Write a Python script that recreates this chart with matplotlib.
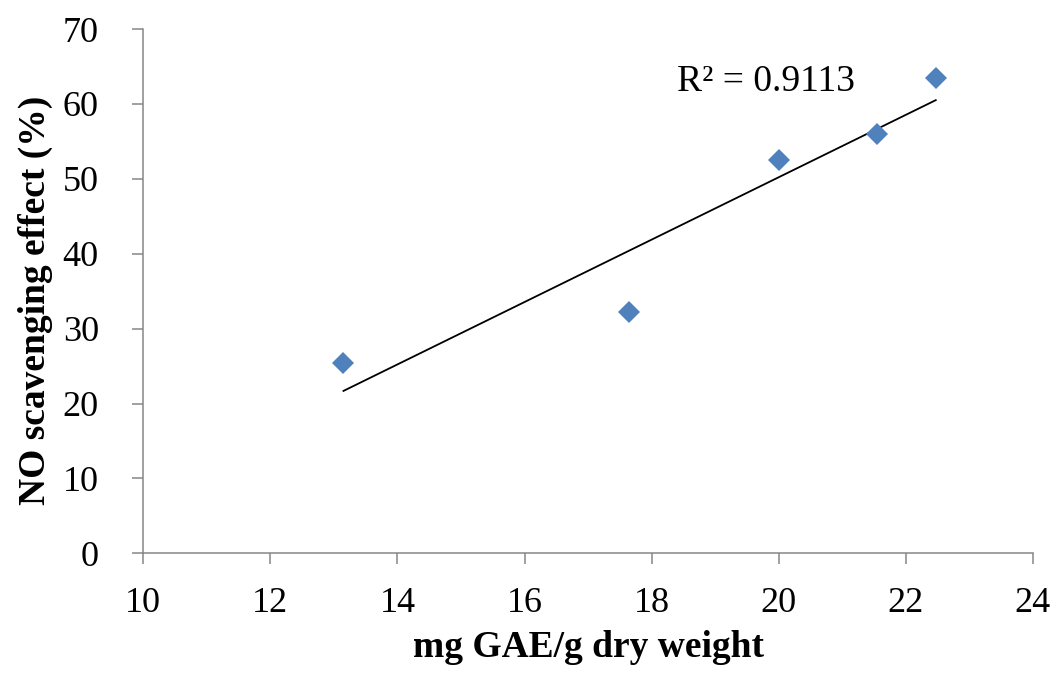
import numpy as np
import matplotlib.pyplot as plt

# Teneur en phenols (mg GAE/g) et effet de piegeage du NO (%)
gae = [13.15, 17.65, 20.0, 21.55, 22.47]
no_effect = [25.4, 32.2, 52.5, 56.0, 63.4]

plt.rcParams['font.family'] = ['Liberation Serif', 'DejaVu Serif']

fig = plt.figure(figsize=(10.56, 6.73), dpi=100)
ax = fig.add_axes([0.1357, 0.1778, 0.8425, 0.7791])

ax.plot(gae, no_effect, 'D', color='#4F81BD', markersize=11.5, markeredgewidth=0, zorder=3)

# droite des moindres carres
a, b = np.polyfit(gae, no_effect, 1)
xs = np.array([min(gae), max(gae)])
ax.plot(xs, a * xs + b, color='black', linewidth=1.3)

ax.text(19.8, 63.0, 'R² = 0.9113', fontsize=27, ha='center', va='center')

ax.set_xlim(10, 24)
ax.set_ylim(0, 70)
ax.set_xticks(np.arange(10, 25, 2))
ax.set_yticks(np.arange(0, 71, 10))

for s in ['top', 'right']:
    ax.spines[s].set_visible(False)
for s in ['left', 'bottom']:
    ax.spines[s].set_color('#868686')
    ax.spines[s].set_linewidth(1.1)

ax.tick_params(direction='out', length=8, width=1.1, color='#868686', labelsize=26)
ax.tick_params(axis='y', pad=24)
ax.tick_params(axis='x', pad=16)

ax.set_xlabel('mg GAE/g dry weight', fontsize=27, fontweight='bold')
ax.set_ylabel('NO scavenging effect (%)', fontsize=27, fontweight='bold')
ax.xaxis.set_label_coords(0.5008, -0.147)
ax.yaxis.set_label_coords(-0.102, 0.483)

fig.savefig('out.png', dpi=100)
